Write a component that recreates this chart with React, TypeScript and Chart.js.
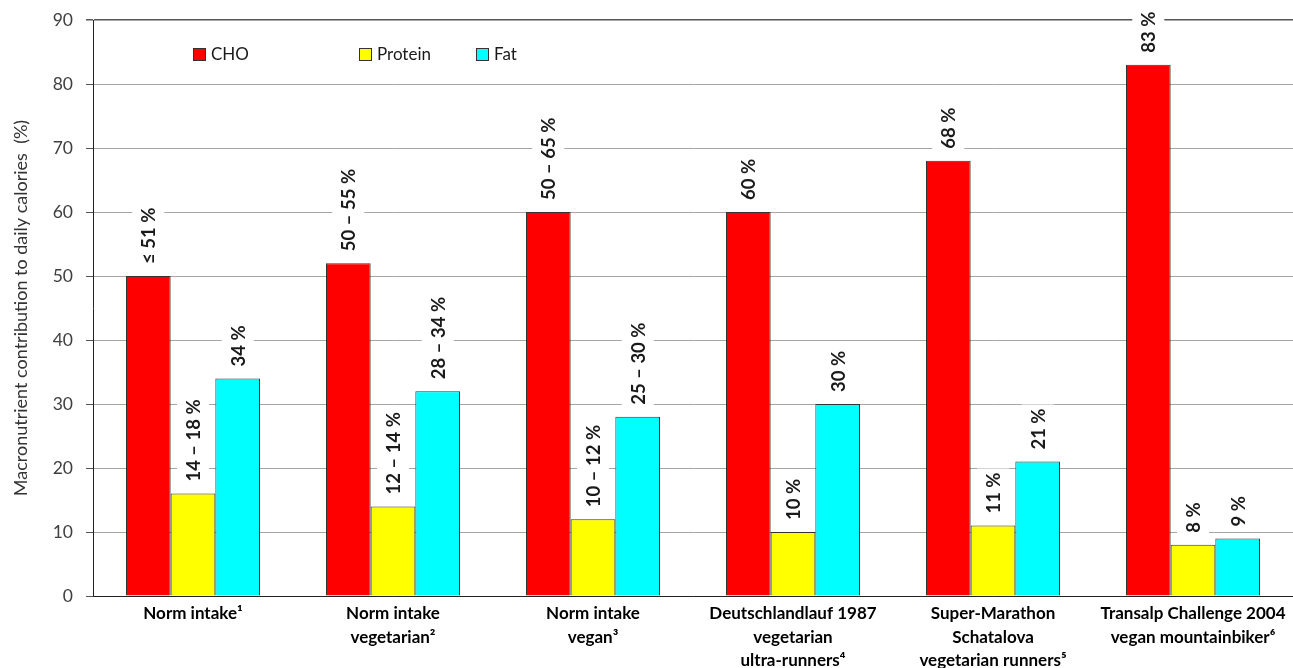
import React, { useEffect, useRef } from "react";
import { Chart, registerables } from "chart.js";

Chart.register(...registerables);

const categories: string[][] = [
  ["Norm intake¹"],
  ["Norm intake", "vegetarian²"],
  ["Norm intake", "vegan³"],
  ["Deutschlandlauf 1987", "vegetarian", "ultra-runners⁴"],
  ["Super-Marathon", "Schatalova", "vegetarian runners⁵"],
  ["Transalp Challenge 2004", "vegan mountainbiker⁶"],
];

const seriesNames = ["CHO", "Protein", "Fat"];
const choValues = [50, 52, 60, 60, 68, 83];
const proteinValues = [16, 14, 12, 10, 11, 8];
const fatValues = [34, 32, 28, 30, 21, 9];

const choLabels = ["≤ 51 %", "50 – 55 %", "50 – 65 %", "60 %", "68 %", "83 %"];
const proteinLabels = ["14 – 18 %", "12 – 14 %", "10 – 12 %", "10 %", "11 %", "8 %"];
const fatLabels = ["34 %", "28 – 34 %", "25 – 30 %", "30 %", "21 %", "9 %"];

const yTicks = [0, 10, 20, 30, 40, 50, 60, 70, 80, 90];

const colors = ["#FF0000", "#FFFF00", "#00FFFF"];
const FONT = 'Lato, "Open Sans", sans-serif';

const labelSets = [choLabels, proteinLabels, fatLabels];

const valueLabelPlugin = {
  id: "valueLabels",
  afterDatasetsDraw(chart: any) {
    const ctx = chart.ctx;
    chart.data.datasets.forEach((_ds: any, di: number) => {
      const meta = chart.getDatasetMeta(di);
      meta.data.forEach((bar: any, i: number) => {
        const text = labelSets[di][i];
        ctx.save();
        ctx.font = `bold 18.5px ${FONT}`;
        const w = ctx.measureText(text).width;
        ctx.translate(bar.x, bar.y - 12);
        ctx.rotate(-Math.PI / 2);
        ctx.fillStyle = "#ffffff";
        ctx.fillRect(-4, -16, w + 8, 32);
        ctx.fillStyle = "#1a1a1a";
        ctx.textAlign = "left";
        ctx.textBaseline = "middle";
        ctx.fillText(text, 0, 1);
        ctx.restore();
      });
    });
  },
};

const legendOffsets = [100, 266, 383];

const customLegendPlugin = {
  id: "customLegend",
  afterDraw(chart: any) {
    const ctx = chart.ctx;
    const left = chart.chartArea.left;
    const top = chart.chartArea.top;
    chart.data.datasets.forEach((ds: any, di: number) => {
      const x = left + legendOffsets[di];
      const y = top + 28;
      ctx.save();
      ctx.fillStyle = ds.backgroundColor;
      ctx.fillRect(x, y, 12, 12);
      ctx.strokeStyle = "#333";
      ctx.lineWidth = 1;
      ctx.strokeRect(x + 0.5, y + 0.5, 12, 12);
      ctx.fillStyle = "#1a1a1a";
      ctx.font = `17px ${FONT}`;
      ctx.textAlign = "left";
      ctx.textBaseline = "middle";
      ctx.fillText(ds.label, x + 18, y + 7);
      ctx.restore();
    });
  },
};

export default function App() {
  const canvasRef = useRef<HTMLCanvasElement | null>(null);

  useEffect(() => {
    document.body.style.margin = "0";
    const canvas = canvasRef.current;
    if (!canvas) return;
    const valueSets = [choValues, proteinValues, fatValues];
    const chart = new Chart(canvas, {
      type: "bar",
      data: {
        labels: categories,
        datasets: seriesNames.map((name, i) => ({
          label: name,
          data: valueSets[i],
          backgroundColor: colors[i],
          borderColor: "#333333",
          borderWidth: 1,
          categoryPercentage: 0.67,
          barPercentage: 1.0,
        })),
      },
      options: {
        responsive: false,
        animation: false,
        layout: { padding: { top: 20, right: 0, bottom: 0, left: 0 } },
        plugins: {
          legend: { display: false },
          tooltip: { enabled: false },
        },
        scales: {
          x: {
            grid: { display: false, drawTicks: false },
            border: { display: true, color: "#222", width: 1 },
            ticks: {
              color: "#000",
              padding: 6,
              maxRotation: 0,
              autoSkip: false,
              font: { family: FONT, size: 17, weight: "bold", lineHeight: 1.38 },
            },
            afterFit(scale: any) {
              scale.height = 72;
              scale.paddingLeft = 0;
              scale.paddingRight = 0;
            },
          },
          y: {
            min: 0,
            max: 90,
            afterBuildTicks(scale: any) {
              scale.ticks = yTicks.map((v) => ({ value: v }));
            },
            grid: {
              color: (c: any) => (c.tick && c.tick.value === 90 ? "#555555" : "#a6a6a6"),
              lineWidth: (c: any) => (c.tick && c.tick.value === 90 ? 1.5 : 1),
              tickColor: "#555555",
              tickLength: 7,
            },
            border: { display: true, color: "#222", width: 1 },
            ticks: {
              color: "#404040",
              padding: 13,
              font: { family: FONT, size: 17.5 },
            },
            title: {
              display: true,
              text: "Macronutrient contribution to daily calories  (%)",
              color: "#333",
              font: { family: FONT, size: 18 },
              padding: { top: 10, bottom: 0 },
            },
            afterFit(scale: any) {
              scale.width = 93;
              scale.paddingTop = 0;
              scale.paddingBottom = 0;
            },
          },
        },
      },
      plugins: [valueLabelPlugin, customLegendPlugin],
    } as any);
    return () => chart.destroy();
  }, []);

  return (
    <div style={{ width: 1293, height: 668 }}>
      <canvas ref={canvasRef} width={1293} height={668} />
    </div>
  );
}
